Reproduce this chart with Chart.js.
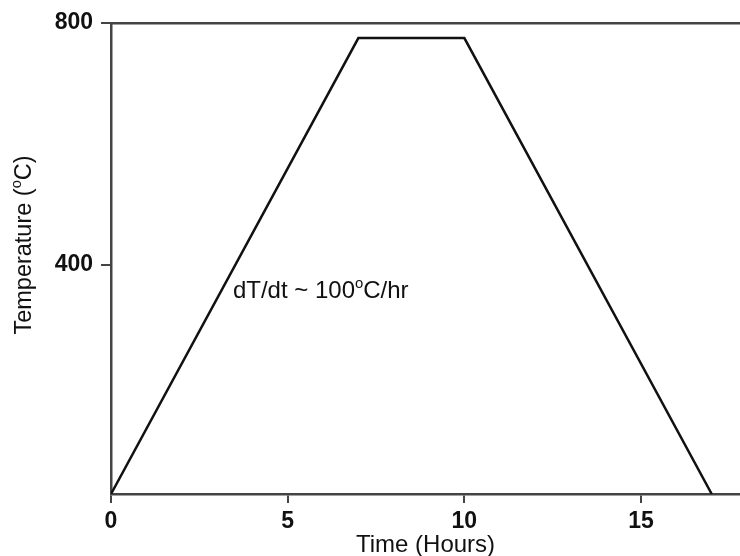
<!DOCTYPE html>
<html>
<head>
<meta charset="utf-8">
<script src="https://cdn.jsdelivr.net/npm/chart.js@4"></script>
<style>
  html, body { margin: 0; padding: 0; background: #fff; }
</style>
</head>
<body>
<canvas id="chart" width="740" height="556"></canvas>
<script>
// furnace heating profile
const hours = [0, 7, 10, 17];
const temps = [20, 775, 775, 20];
const xTicks = [0, 5, 10, 15];
const yTicks = [400, 800];
const rateLabel = ['dT/dt ~ 100', 'o', 'C/hr'];
const yTitle = ['Temperature (', 'o', 'C)'];
const xTitle = 'Time (Hours)';

const FONT = "'Liberation Sans', Arial, sans-serif";
const axisColor = '#444';

// draw text where every second piece is a raised small "o"
function richWidth(ctx, parts, size) {
  let w = 0;
  parts.forEach((p, i) => {
    ctx.font = (i % 2 ? size * 0.62 : size) + 'px ' + FONT;
    w += ctx.measureText(p).width;
  });
  return w;
}

function drawRich(ctx, parts, x, y, size) {
  let cx = x - richWidth(ctx, parts, size) / 2;
  parts.forEach((p, i) => {
    ctx.font = (i % 2 ? size * 0.62 : size) + 'px ' + FONT;
    ctx.fillText(p, cx, i % 2 ? y - size * 0.42 : y);
    cx += ctx.measureText(p).width;
  });
}

const labels = {
  id: 'labels',
  afterDraw(chart) {
    const ctx = chart.ctx;
    const xs = chart.scales.x, ys = chart.scales.y;
    ctx.save();
    ctx.fillStyle = '#111';
    ctx.textAlign = 'left';
    ctx.textBaseline = 'alphabetic';

    // rate note, anchored in data space (left edge)
    const w = richWidth(ctx, rateLabel, 24);
    drawRich(ctx, rateLabel, xs.getPixelForValue(3.45) + w / 2, ys.getPixelForValue(345), 24);

    // x title
    ctx.font = '24px ' + FONT;
    ctx.textAlign = 'center';
    ctx.fillText(xTitle, (chart.chartArea.left + chart.chartArea.right) / 2, 552);

    // y title
    ctx.textAlign = 'left';
    ctx.translate(31, 245);
    ctx.rotate(-Math.PI / 2);
    drawRich(ctx, yTitle, 0, 0, 23.5);
    ctx.restore();
  }
};

new Chart(document.getElementById('chart'), {
  type: 'line',
  data: {
    datasets: [{
      data: hours.map((h, i) => ({ x: h, y: temps[i] })),
      borderColor: '#111',
      borderWidth: 2.5,
      pointRadius: 0,
      tension: 0,
      fill: false
    }]
  },
  options: {
    responsive: false,
    animation: false,
    layout: { padding: 0 },
    plugins: { legend: { display: false }, tooltip: { enabled: false } },
    scales: {
      x: {
        type: 'linear',
        position: 'bottom',
        min: 0,
        max: 17.8,
        afterBuildTicks: s => { s.ticks = xTicks.map(v => ({ value: v })); },
        afterFit: s => { s.height = 62; },
        grid: { drawOnChartArea: false, drawTicks: true, tickLength: 9, color: axisColor, lineWidth: 2 },
        border: { display: true, color: axisColor, width: 2.5 },
        ticks: { color: '#111', padding: 5, font: { family: FONT, size: 23, weight: 'bold' }, maxRotation: 0 }
      },
      x2: {
        type: 'linear',
        position: 'top',
        min: 0,
        max: 17.8,
        afterFit: s => { s.height = 23; },
        grid: { drawOnChartArea: false, drawTicks: false },
        border: { display: true, color: axisColor, width: 2.5 },
        ticks: { display: false }
      },
      y: {
        type: 'linear',
        position: 'left',
        min: 20,
        max: 800,
        afterBuildTicks: s => { s.ticks = yTicks.map(v => ({ value: v })); },
        afterFit: s => { s.width = 111; },
        grid: { drawOnChartArea: false, drawTicks: true, tickLength: 10, color: axisColor, lineWidth: 2 },
        border: { display: true, color: axisColor, width: 2.5 },
        ticks: { color: '#111', padding: 8, font: { family: FONT, size: 23, weight: 'bold' } }
      }
    }
  },
  plugins: [labels]
});
</script>
</body>
</html>
